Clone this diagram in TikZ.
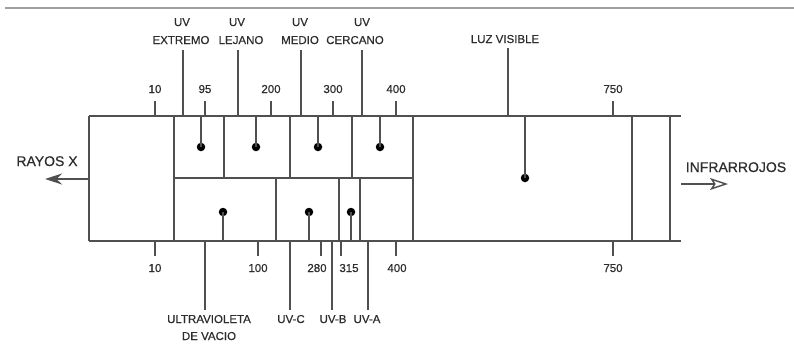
\documentclass[tikz,border=0pt]{standalone}
\usepackage{fontspec}
\setmainfont{Liberation Sans}[FakeBold=0.5]
\usetikzlibrary{arrows.meta}
\definecolor{linecol}{RGB}{80,80,80}
\definecolor{txtcol}{RGB}{45,45,45}
\definecolor{rulecol}{RGB}{160,160,160}
\begin{document}
\begin{tikzpicture}[x=1pt,y=-1pt,
  frame/.style={draw=linecol, line width=2pt},
  tk/.style={draw=linecol, line width=1.6pt},
  lbl/.style={text=txtcol, inner sep=0pt, anchor=base, font=\fontsize{11.5}{13}\selectfont},
  big/.style={text=txtcol, inner sep=0pt, anchor=base, font=\fontsize{14}{16}\selectfont},
  dot/.style={circle, fill=black, inner sep=0pt, minimum size=8.5pt}]
\useasboundingbox (0,0) rectangle (794,343);
\fill[white] (0,0) rectangle (794,343);
\draw[draw=rulecol, line width=2.5pt] (5,8) -- (794,8);

% frame
\draw[frame] (89,116) -- (681,116);
\draw[frame] (89,241) -- (681,241);
\foreach \x in {89,174,413,632,670} \draw[frame] (\x,116) -- (\x,241);
\draw[frame] (174,178) -- (413,178);
\foreach \x in {224,290,352} \draw[frame] (\x,116) -- (\x,178);
\foreach \x in {276,339,360} \draw[frame] (\x,178) -- (\x,241);

% top ticks
\foreach \x/\t in {155/10,205/95,271/200,333/300,396/400,613/750}{
  \draw[tk] (\x,101) -- (\x,116);
  \node[lbl] (t\t) at (\x,93) {\t};
}
% bottom ticks
\foreach \x in {155,258,341,396,613} \draw[tk] (\x,241) -- (\x,256);
\draw[tk, line width=2.4pt] (321,241) -- (321,256);
\node[lbl] (b10) at (155,272) {10};
\node[lbl] (b100) at (258,272) {100};
\node[lbl] (b280) at (317,272) {280};
\node[lbl] (b315) at (349,272) {315};
\node[lbl] (b400) at (397,272) {400};
\node[lbl] (b750) at (613,272) {750};

% top category markers
\foreach \x in {183,238,301,362} \draw[frame] (\x,50) -- (\x,116);
\draw[frame] (508,48) -- (508,116);
\node[lbl] (uv1) at (182,26) {UV};
\node[lbl] (ext) at (181,44) {EXTREMO};
\node[lbl] (uv2) at (237,26) {UV};
\node[lbl] (lej) at (241,44) {LEJANO};
\node[lbl] (uv3) at (300,26) {UV};
\node[lbl] (med) at (300,44) {MEDIO};
\node[lbl] (uv4) at (362,26) {UV};
\node[lbl] (cer) at (355,44) {CERCANO};
\node[lbl] (luz) at (505,43) {LUZ VISIBLE};

% pins top row
\foreach \x/\n in {201/a,256/b,318/c,380/d}{
  \node[dot] (p\n) at (\x,147) {};
  \draw[frame] (\x,116) -- (p\n.center);
}
\node[dot] (pv) at (525,178) {};
\draw[frame] (525,116) -- (pv.center);

% pins bottom row
\foreach \x/\n in {223/e,309/f,351/g}{
  \node[dot] (p\n) at (\x,212) {};
  \draw[frame] (\x,241) -- (p\n.center);
}

% bottom category markers
\foreach \x in {205,290,332,368} \draw[frame] (\x,241) -- (\x,310);
\node[lbl] (ultra) at (209,323) {ULTRAVIOLETA};
\node[lbl] (vac) at (209,340) {DE VACIO};
\node[lbl] (uvc) at (291,323) {UV-C};
\node[lbl] (uvb) at (333,323) {UV-B};
\node[lbl] (uva) at (367,323) {UV-A};

% arrows
\coordinate (xs) at (89,179);
\coordinate (xe) at (45,179);
\draw[draw=linecol, line width=1.6pt, -{Stealth[length=17pt,width=11pt]}] (xs) -- (xe);
\node[big] (rayos) at (47,166) {RAYOS X};
\coordinate (is) at (681,184);
\coordinate (ie) at (728,184);
\draw[draw=linecol, line width=1.4pt, -{Stealth[open,length=18pt,width=12pt,inset=4pt]}] (is) -- (ie);
\node[big] (infra) at (736,172) {INFRARROJOS};
\end{tikzpicture}
\end{document}
